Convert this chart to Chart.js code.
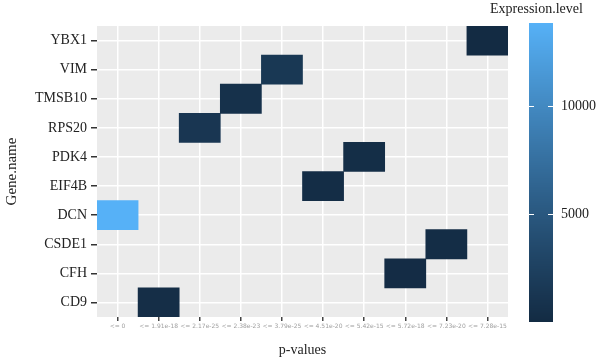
<!DOCTYPE html>
<html>
<head>
<meta charset="utf-8">
<script src="https://cdn.jsdelivr.net/npm/chart.js@4/dist/chart.umd.min.js"></script>
<style>
html,body{margin:0;padding:0;background:#fff;}
#wrap{width:600px;height:363px;position:relative;}
</style>
</head>
<body>
<div id="wrap"><canvas id="c" width="600" height="363"></canvas></div>
<script>
// ---- data ----
const genes = ['CD9','CFH','CSDE1','DCN','EIF4B','PDK4','RPS20','TMSB10','VIM','YBX1'];
const pValues = ['<= 0','<= 1.91e-18','<= 2.17e-25','<= 2.38e-23','<= 3.79e-25','<= 4.51e-20','<= 5.42e-15','<= 5.72e-18','<= 7.23e-20','<= 7.28e-15'];
const tileGene = ['DCN','CD9','RPS20','TMSB10','VIM','EIF4B','PDK4','CFH','CSDE1','YBX1'];
const expression = [13800, 400, 1300, 700, 1500, 300, 350, 200, 250, 30];
const legendTicks = [5000, 10000];

// ---- colour scale (ggplot default, Lab interpolation) ----
const LOW = '#132B43', HIGH = '#56B1F7';
function hexToRgb(h){return [parseInt(h.slice(1,3),16),parseInt(h.slice(3,5),16),parseInt(h.slice(5,7),16)];}
function toLin(c){c/=255;return c<=0.04045?c/12.92:Math.pow((c+0.055)/1.055,2.4);}
function fromLin(c){const v=c<=0.0031308?12.92*c:1.055*Math.pow(c,1/2.4)-0.055;return Math.max(0,Math.min(255,Math.round(v*255)));}
const Wn=[0.95047,1,1.08883];
function rgbToLab(rgb){
  const [r,g,b]=rgb.map(toLin);
  const X=(0.4124*r+0.3576*g+0.1805*b)/Wn[0],Y=(0.2126*r+0.7152*g+0.0722*b)/Wn[1],Z=(0.0193*r+0.1192*g+0.9505*b)/Wn[2];
  const f=t=>t>0.008856?Math.cbrt(t):7.787*t+16/116;
  const fx=f(X),fy=f(Y),fz=f(Z);
  return [116*fy-16,500*(fx-fy),200*(fy-fz)];
}
function labToRgb(lab){
  const fy=(lab[0]+16)/116,fx=fy+lab[1]/500,fz=fy-lab[2]/200;
  const fi=t=>t*t*t>0.008856?t*t*t:(t-16/116)/7.787;
  const X=fi(fx)*Wn[0],Y=fi(fy)*Wn[1],Z=fi(fz)*Wn[2];
  const r=3.2406*X-1.5372*Y-0.4986*Z,g=-0.9689*X+1.8758*Y+0.0415*Z,b=0.0557*X-0.2040*Y+1.0570*Z;
  return [fromLin(r),fromLin(g),fromLin(b)];
}
const labLow=rgbToLab(hexToRgb(LOW)),labHigh=rgbToLab(hexToRgb(HIGH));
const vMin=Math.min(...expression),vMax=Math.max(...expression);
function colorFor(v){
  const t=Math.max(0,Math.min(1,(v-vMin)/(vMax-vMin)));
  const lab=labLow.map((a,i)=>a+(labHigh[i]-a)*t);
  const c=labToRgb(lab);
  return `rgb(${c[0]},${c[1]},${c[2]})`;
}

const SERIF = '"Liberation Serif","DejaVu Serif",serif';

const panelBg = {
  id:'panelBg',
  beforeDraw(chart){
    const {ctx,chartArea:a}=chart;
    ctx.save();ctx.fillStyle='#EBEBEB';ctx.fillRect(a.left,a.top,a.right-a.left,a.bottom-a.top);ctx.restore();
  }
};

const colorBar = {
  id:'colorBar',
  afterDraw(chart){
    const ctx=chart.ctx;
    const x0=529,x1=553,yTop=23,yBot=322;
    ctx.save();
    for(let y=yTop;y<yBot;y++){
      const v=vMin+(yBot-y-0.5)/(yBot-yTop)*(vMax-vMin);
      ctx.fillStyle=colorFor(v);
      ctx.fillRect(x0,y,x1-x0,1);
    }
    ctx.strokeStyle='#fff';ctx.lineWidth=1;
    ctx.fillStyle='#222';ctx.font='14px '+SERIF;ctx.textBaseline='middle';ctx.textAlign='left';
    legendTicks.forEach(v=>{
      const y=Math.round(yBot-(v-vMin)/(vMax-vMin)*(yBot-yTop))+0.5;
      ctx.beginPath();ctx.moveTo(x0,y);ctx.lineTo(x0+5,y);ctx.moveTo(x1-5,y);ctx.lineTo(x1,y);ctx.stroke();
      ctx.fillText(String(v),561,y);
    });
    ctx.font='14px '+SERIF;ctx.textBaseline='middle';
    ctx.fillText('Expression.level',490,9);
    ctx.restore();
  }
};

new Chart(document.getElementById('c'),{
  type:'bar',
  data:{
    labels:pValues,
    datasets:[{
      data:tileGene.map(g=>{const i=genes.indexOf(g);return [i-0.5,i+0.5];}),
      backgroundColor:expression.map(colorFor),
      borderWidth:0,
      barPercentage:1,
      categoryPercentage:1
    }]
  },
  options:{
    responsive:false,
    animation:false,
    layout:{padding:{top:26,right:92,left:0,bottom:0}},
    plugins:{legend:{display:false},tooltip:{enabled:false}},
    scales:{
      x:{
        type:'category',
        offset:true,
        grid:{offset:false,color:'#fff',lineWidth:1.5,tickColor:'#444',tickLength:4,drawOnChartArea:true},
        border:{display:false},
        ticks:{font:{size:6,family:'"DejaVu Sans",sans-serif'},color:'#a0a0a0',maxRotation:0,minRotation:0,autoSkip:false,padding:2},
        title:{display:true,text:'p-values',font:{size:14,family:SERIF},color:'#222',padding:{top:0,bottom:4}},
        afterFit(s){s.height=46;}
      },
      y:{
        type:'linear',
        min:-0.5,max:9.5,
        afterBuildTicks(s){s.ticks=genes.map((g,i)=>({value:i}));},
        grid:{color:'#fff',lineWidth:1.5,tickColor:'#333',tickLength:6},
        border:{display:false},
        ticks:{callback:v=>genes[v],font:{size:14,family:SERIF},color:'#222',padding:4,autoSkip:false},
        title:{display:true,text:'Gene.name',font:{size:15,family:SERIF},color:'#222',padding:{top:3,bottom:0}},
        afterFit(s){s.width=97;}
      }
    }
  },
  plugins:[panelBg,colorBar]
});
</script>
</body>
</html>
